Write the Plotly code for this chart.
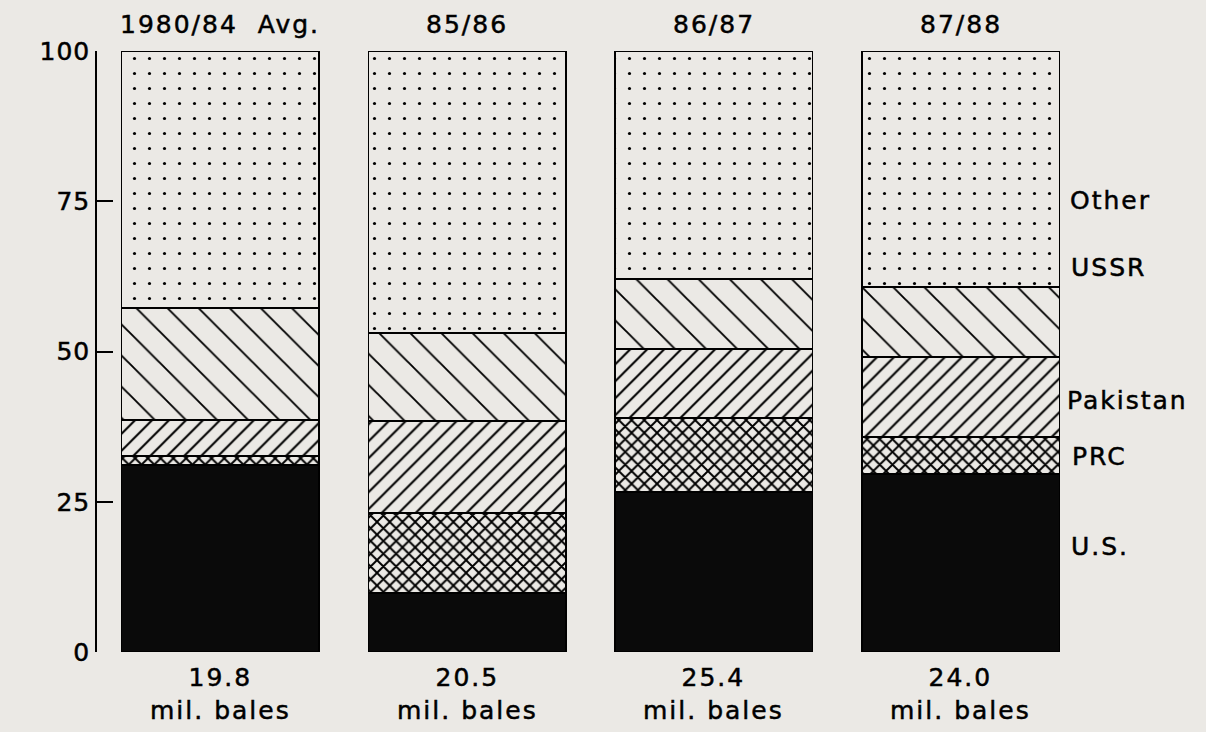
import plotly.graph_objects as go

periods = ["1980/84  Avg.", "85/86", "86/87", "87/88"]
totals = ["19.8", "20.5", "25.4", "24.0"]
us = [31.1, 9.8, 26.6, 29.6]
prc = [1.5, 13.3, 12.3, 6.2]
pakistan = [6.0, 15.3, 11.5, 13.3]
ussr = [18.6, 14.7, 11.7, 11.6]
other = [42.8, 46.9, 37.9, 39.3]
series_names = ["U.S.", "PRC", "Pakistan", "USSR", "Other"]
label_y = [17.5, 32.6, 41.9, 63.9, 75.2]
yticks = [0, 25, 50, 75, 100]

BG = "#ebe9e5"
FONT = "DejaVu Sans, Liberation Sans, sans-serif"
x = list(range(len(periods)))

fig = go.Figure()
styles = [
    dict(color="#0a0a0a", pattern=None),
    dict(color=BG, pattern=dict(shape="x", size=9, solidity=0.38, fgcolor="black", bgcolor=BG, fgopacity=1)),
    dict(color=BG, pattern=dict(shape="/", size=12, solidity=0.17, fgcolor="black", bgcolor=BG, fgopacity=1)),
    dict(color=BG, pattern=dict(shape="\\", size=22, solidity=0.085, fgcolor="black", bgcolor=BG, fgopacity=1)),
    dict(color=BG, pattern=dict(shape=".", size=15, solidity=0.035, fgcolor="black", bgcolor=BG, fgopacity=1)),
]
for name, vals, st in zip(series_names, [us, prc, pakistan, ussr, other], styles):
    marker = dict(color=st["color"], line=dict(color="black", width=1.5))
    if st["pattern"]:
        marker["pattern"] = st["pattern"]
    fig.add_trace(go.Bar(x=x, y=vals, name=name, marker=marker, showlegend=False))

annotations = []
for i, (p, t) in enumerate(zip(periods, totals)):
    annotations.append(dict(x=i, y=1.0, xref="x", yref="paper", text=p, showarrow=False,
                            yanchor="bottom", yshift=10, font=dict(size=25, color="black", family=FONT)))
    annotations.append(dict(x=i, y=0, xref="x", yref="paper", text=t + "<br>mil. bales", showarrow=False,
                            yanchor="top", yshift=-9, font=dict(size=25, color="black", family=FONT)))
for name, ly in zip(series_names, label_y):
    annotations.append(dict(x=1.0, y=ly, xref="paper", yref="y", text=name, showarrow=False,
                            xanchor="left", xshift=-11, font=dict(size=25, color="black", family=FONT)))

fig.update_layout(
    barmode="stack",
    bargap=0.2,
    width=1206, height=732,
    margin=dict(l=97, r=122, t=51, b=80),
    paper_bgcolor=BG, plot_bgcolor=BG,
    annotations=annotations,
    font=dict(family=FONT, size=24, color="black"),
)
fig.update_xaxes(range=[-0.5, 3.5], showticklabels=False, showgrid=False, zeroline=False,
                 showline=False, ticks="")
fig.update_yaxes(range=[0, 100], tickvals=yticks, ticks="inside", ticklen=16, tickwidth=1.5,
                 tickcolor="black", showline=True, linecolor="black", linewidth=1.5,
                 showgrid=False, zeroline=False, tickfont=dict(size=25, color="black", family=FONT))

post = (
    "document.body.style.margin='0';document.body.style.background='%s';"
    "document.querySelectorAll('.annotation-text').forEach(function(e){"
    "e.style.letterSpacing='2px';e.style.stroke='black';e.style.strokeWidth='0.5px';});"
    "document.querySelectorAll('.ytick text').forEach(function(e){"
    "e.style.letterSpacing='1px';e.style.stroke='black';e.style.strokeWidth='0.5px';});"
) % BG

fig.write_html("out.html", post_script=post, config={"displayModeBar": False})
